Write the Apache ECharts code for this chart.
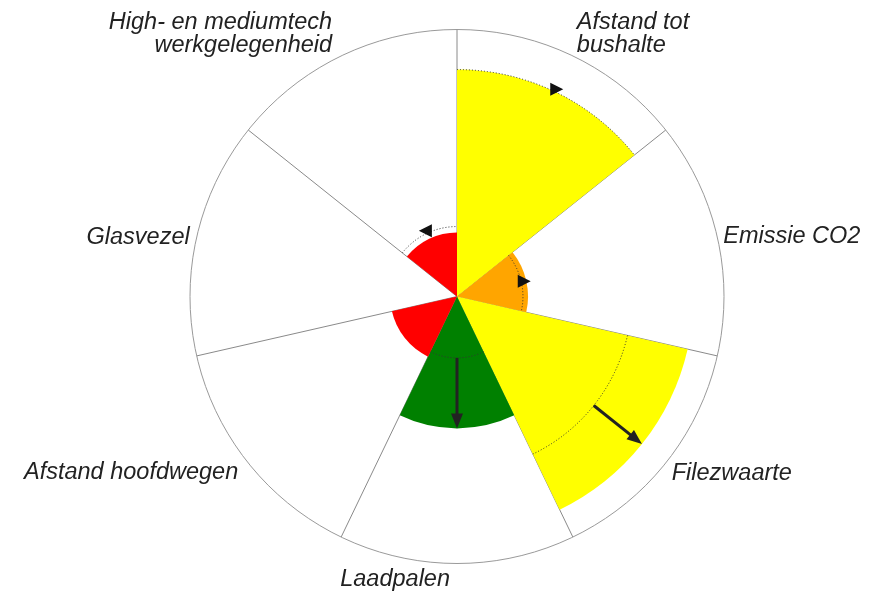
<!DOCTYPE html>
<html><head><meta charset="utf-8">
<script src="https://cdn.jsdelivr.net/npm/echarts@6/dist/echarts.min.js"></script>
<style>html,body{margin:0;padding:0;background:#fff}#c{width:885px;height:594px}</style>
</head><body><div id="c"></div>
<script>
// ---- data ----
const categories = ['Afstand tot\nbushalte', 'Emissie CO2', 'Filezwaarte', 'Laadpalen', 'Afstand hoofdwegen', 'Glasvezel', 'High- en mediumtech\nwerkgelegenheid'];
const currentValues = [85, 26.6, 88.6, 49.4, 25, null, 24];
const previousValues = [85, 24.7, 65.5, 23, null, null, 26.2];
const statusLevels = ['geel', 'oranje', 'geel', 'groen', 'rood', null, 'rood'];
const changeMarks = ['right', 'right', 'arrow', 'arrow', null, null, 'left'];
const radiusRange = [0, 100];

// ---- styles / layout ----
const levelColors = { geel: '#ffff00', oranje: '#ffa500', groen: '#008000', rood: '#ff0000' };
const labelLayout = [
  { align: 'left', dx: 4, dy: -22 },
  { align: 'left', dx: 6, dy: -1 },
  { align: 'left', dx: 6, dy: 10 },
  { align: 'right', dx: -7, dy: 16 },
  { align: 'right', dx: -10, dy: 9 },
  { align: 'right', dx: -7, dy: 0 },
  { align: 'right', dx: -9, dy: -22 }
];
const FONT = '"Liberation Sans", Arial, Helvetica, sans-serif';

function geom(api, params, r, idx) {
  const p = api.coord([r, idx]);
  const cs = params.coordSys;
  const dx = p[0] - cs.cx, dy = p[1] - cs.cy;
  return { x: p[0], y: p[1], rad: Math.hypot(dx, dy), theta: Math.atan2(dy, dx) };
}

const chart = echarts.init(document.getElementById('c'), null, { renderer: 'canvas' });

const barData = currentValues.map((v, i) => v == null ? null : {
  value: v, itemStyle: { color: levelColors[statusLevels[i]] }
});
const overlayData = [];
previousValues.forEach((p, i) => { if (p != null) overlayData.push([currentValues[i], i, p]); });
const labelData = categories.map((c, i) => [radiusRange[1], i]);

chart.setOption({
  animation: false,
  backgroundColor: '#ffffff',
  polar: { center: [457, 296.5], radius: 267 },
  angleAxis: {
    type: 'category', data: categories, startAngle: 90, clockwise: true, boundaryGap: true,
    axisLine: { show: true, lineStyle: { color: '#9a9a9a', width: 1 } },
    axisTick: { show: false }, axisLabel: { show: false },
    splitLine: { show: true, lineStyle: { color: '#8a8a8a', width: 1 } }
  },
  radiusAxis: {
    type: 'value', min: radiusRange[0], max: radiusRange[1],
    axisLine: { show: false }, axisTick: { show: false }, axisLabel: { show: false },
    splitLine: { show: false }
  },
  series: [
    {
      type: 'bar', coordinateSystem: 'polar', data: barData,
      barCategoryGap: '0%', z: 2
    },
    {
      type: 'custom', coordinateSystem: 'polar', data: overlayData, z: 5,
      renderItem: function (params, api) {
        const cur = api.value(0), i = api.value(1), prev = api.value(2);
        const cs = params.coordSys;
        const half = Math.PI / categories.length;
        const g = geom(api, params, prev, i);
        const children = [{
          type: 'arc',
          shape: { cx: cs.cx, cy: cs.cy, r: g.rad, startAngle: g.theta - half, endAngle: g.theta + half, clockwise: true },
          style: { stroke: '#333', lineWidth: 1, lineDash: [1, 2], fill: null }
        }];
        const mark = changeMarks[i];
        if (mark === 'arrow') {
          const c = geom(api, params, cur, i);
          const ux = Math.cos(g.theta), uy = Math.sin(g.theta);
          const headLen = 15, headW = 6;
          const bx = c.x - ux * headLen, by = c.y - uy * headLen;
          children.push({ type: 'line', shape: { x1: g.x, y1: g.y, x2: bx + ux * 2, y2: by + uy * 2 }, style: { stroke: '#222', lineWidth: 3 } });
          children.push({ type: 'polygon', shape: { points: [[c.x, c.y], [bx - uy * headW, by + ux * headW], [bx + uy * headW, by - ux * headW]] }, style: { fill: '#222' } });
        } else if (mark) {
          const off = 3;
          const mx = cs.cx + (g.rad + off) * Math.cos(g.theta);
          const my = cs.cy + (g.rad + off) * Math.sin(g.theta);
          const d = mark === 'right' ? 1 : -1;
          const L = 13, W = 6.5;
          children.push({ type: 'polygon', shape: { points: [[mx + d * L / 2, my], [mx - d * L / 2, my - W], [mx - d * L / 2, my + W]] }, style: { fill: '#111' } });
        }
        return { type: 'group', children: children };
      }
    },
    {
      type: 'custom', coordinateSystem: 'polar', data: labelData, z: 6, silent: true,
      renderItem: function (params, api) {
        const i = api.value(1);
        const p = api.coord([api.value(0), i]);
        const lay = labelLayout[i];
        return {
          type: 'text', x: p[0] + lay.dx, y: p[1] + lay.dy,
          style: {
            text: categories[i], align: lay.align, verticalAlign: 'middle',
            fontSize: 23.5, fontStyle: 'italic', fontFamily: FONT, fill: '#222', lineHeight: 23
          }
        };
      }
    }
  ]
});
</script>
</body></html>
